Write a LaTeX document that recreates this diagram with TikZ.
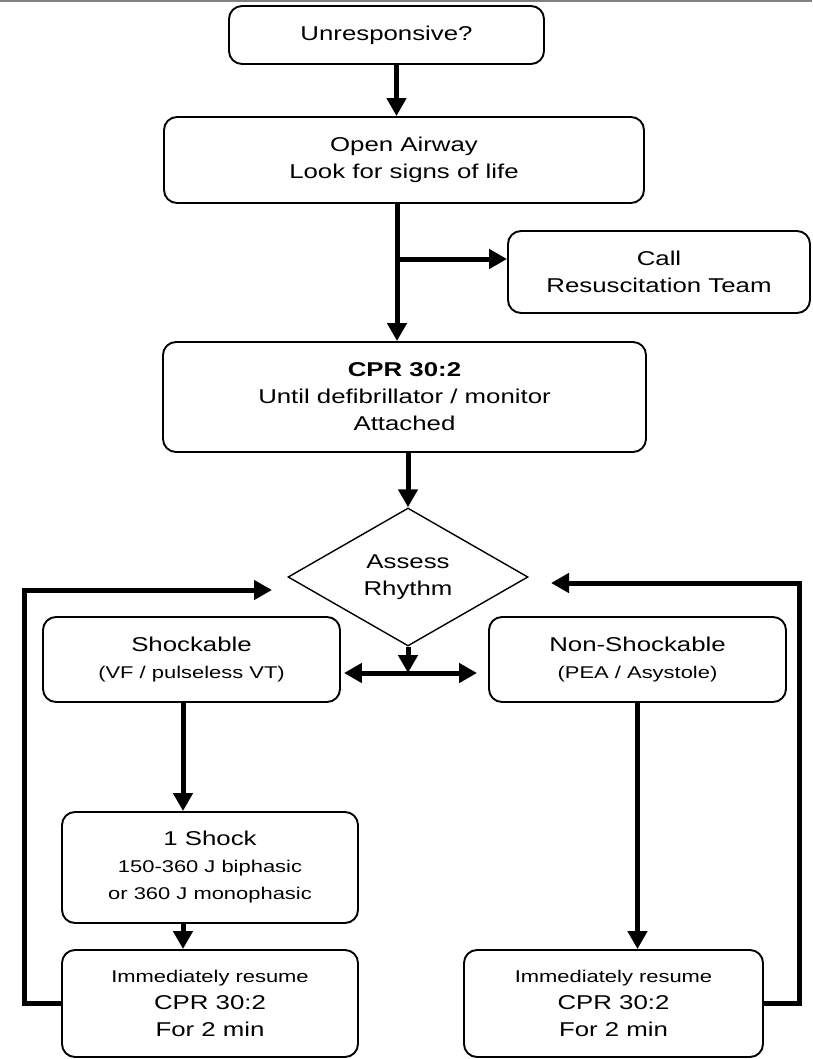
\documentclass[tikz,border=0pt]{standalone}
\usepackage{fontspec}
\setmainfont{Liberation Sans}[FakeStretch=1.29]
\usetikzlibrary{shapes.geometric,arrows.meta}
\newcommand\smalltxt{\fontsize{17}{27}\selectfont}
\begin{document}
\begin{tikzpicture}[x=1pt, y=-1pt,
        box/.style = {draw, rounded corners=13pt, line width=1.9pt, align=center, inner sep=0pt},
        decision/.style = {draw, diamond, line width=1.4pt, align=center, inner sep=0pt,
                           minimum width=240pt, minimum height=138pt},
        every node/.style = {font=\fontsize{20}{27}\selectfont},
        flow/.style = {line width=5pt, -{Triangle[length=18pt,width=19pt]}},
        twoway/.style = {line width=5pt, {Triangle[length=18pt,width=19pt]}-{Triangle[length=18pt,width=19pt]}}
    ]
    \useasboundingbox (0,0) rectangle (812,1059);
    \draw[gray, line width=3pt] (0,1) -- (812,1);

    \node[box, minimum width=315pt, minimum height=58pt] (unresp) at (386.5,35) {Unresponsive?};
    \node[box, minimum width=480pt, minimum height=86pt] (airway) at (404,160) {Open Airway\\Look for signs of life};
    \node[box, minimum width=302pt, minimum height=82pt] (call) at (659,272) {Call\\Resuscitation Team};
    \node[box, minimum width=483pt, minimum height=110pt] (cpr) at (404.5,397)
        {\textbf{CPR 30:2}\\Until defibrillator / monitor\\Attached};
    \node[decision] (assess) at (408,577) {Assess\\Rhythm};
    \node[box, minimum width=297pt, minimum height=85pt] (shock) at (191.5,659.5)
        {Shockable\\{\smalltxt (VF / pulseless VT)}};
    \node[box, minimum width=297pt, minimum height=85pt] (nonshock) at (637.5,659.5)
        {Non-Shockable\\{\smalltxt (PEA / Asystole)}};
    \node[box, minimum width=296pt, minimum height=111pt] (oneshock) at (210,867.5)
        {1 Shock\\{\smalltxt 150-360 J biphasic}\\{\smalltxt or 360 J monophasic}};
    \node[box, minimum width=296pt, minimum height=107pt] (resumeL) at (210,1003.5)
        {{\smalltxt Immediately resume}\\CPR 30:2\\For 2 min};
    \node[box, minimum width=299pt, minimum height=107pt] (resumeR) at (613.5,1003.5)
        {{\smalltxt Immediately resume}\\CPR 30:2\\For 2 min};

    \coordinate (split) at (397,259);
    \coordinate (fork) at (408,673);
    \coordinate (lane) at (183,0);
    \coordinate (backL) at (272,590);
    \coordinate (backR) at (551,583);

    \draw[flow] ([xshift=10pt]unresp.south) -- ([xshift=10pt]unresp.south |- airway.north);
    \draw[flow] (airway.south -| split) -- (cpr.north -| split);
    \draw[flow] (split) -- (split -| call.west);
    \draw[flow] (cpr.south -| assess.north) -- (assess.north);
    \draw[flow] (assess.south) -- (fork);
    \draw[twoway] ([xshift=3pt]shock.east |- fork) -- ([xshift=-11pt]nonshock.west |- fork);
    \draw[flow] (shock.south -| lane) -- (oneshock.north -| lane);
    \draw[flow] (oneshock.south -| lane) -- (resumeL.north -| lane);
    \draw[flow] (nonshock.south) -- (nonshock.south |- resumeR.north);
    \draw[flow] (resumeL.west) -| (24,590) -- (backL);
    \draw[flow] (resumeR.east) -| (799,583) -- (backR);
\end{tikzpicture}
\end{document}
